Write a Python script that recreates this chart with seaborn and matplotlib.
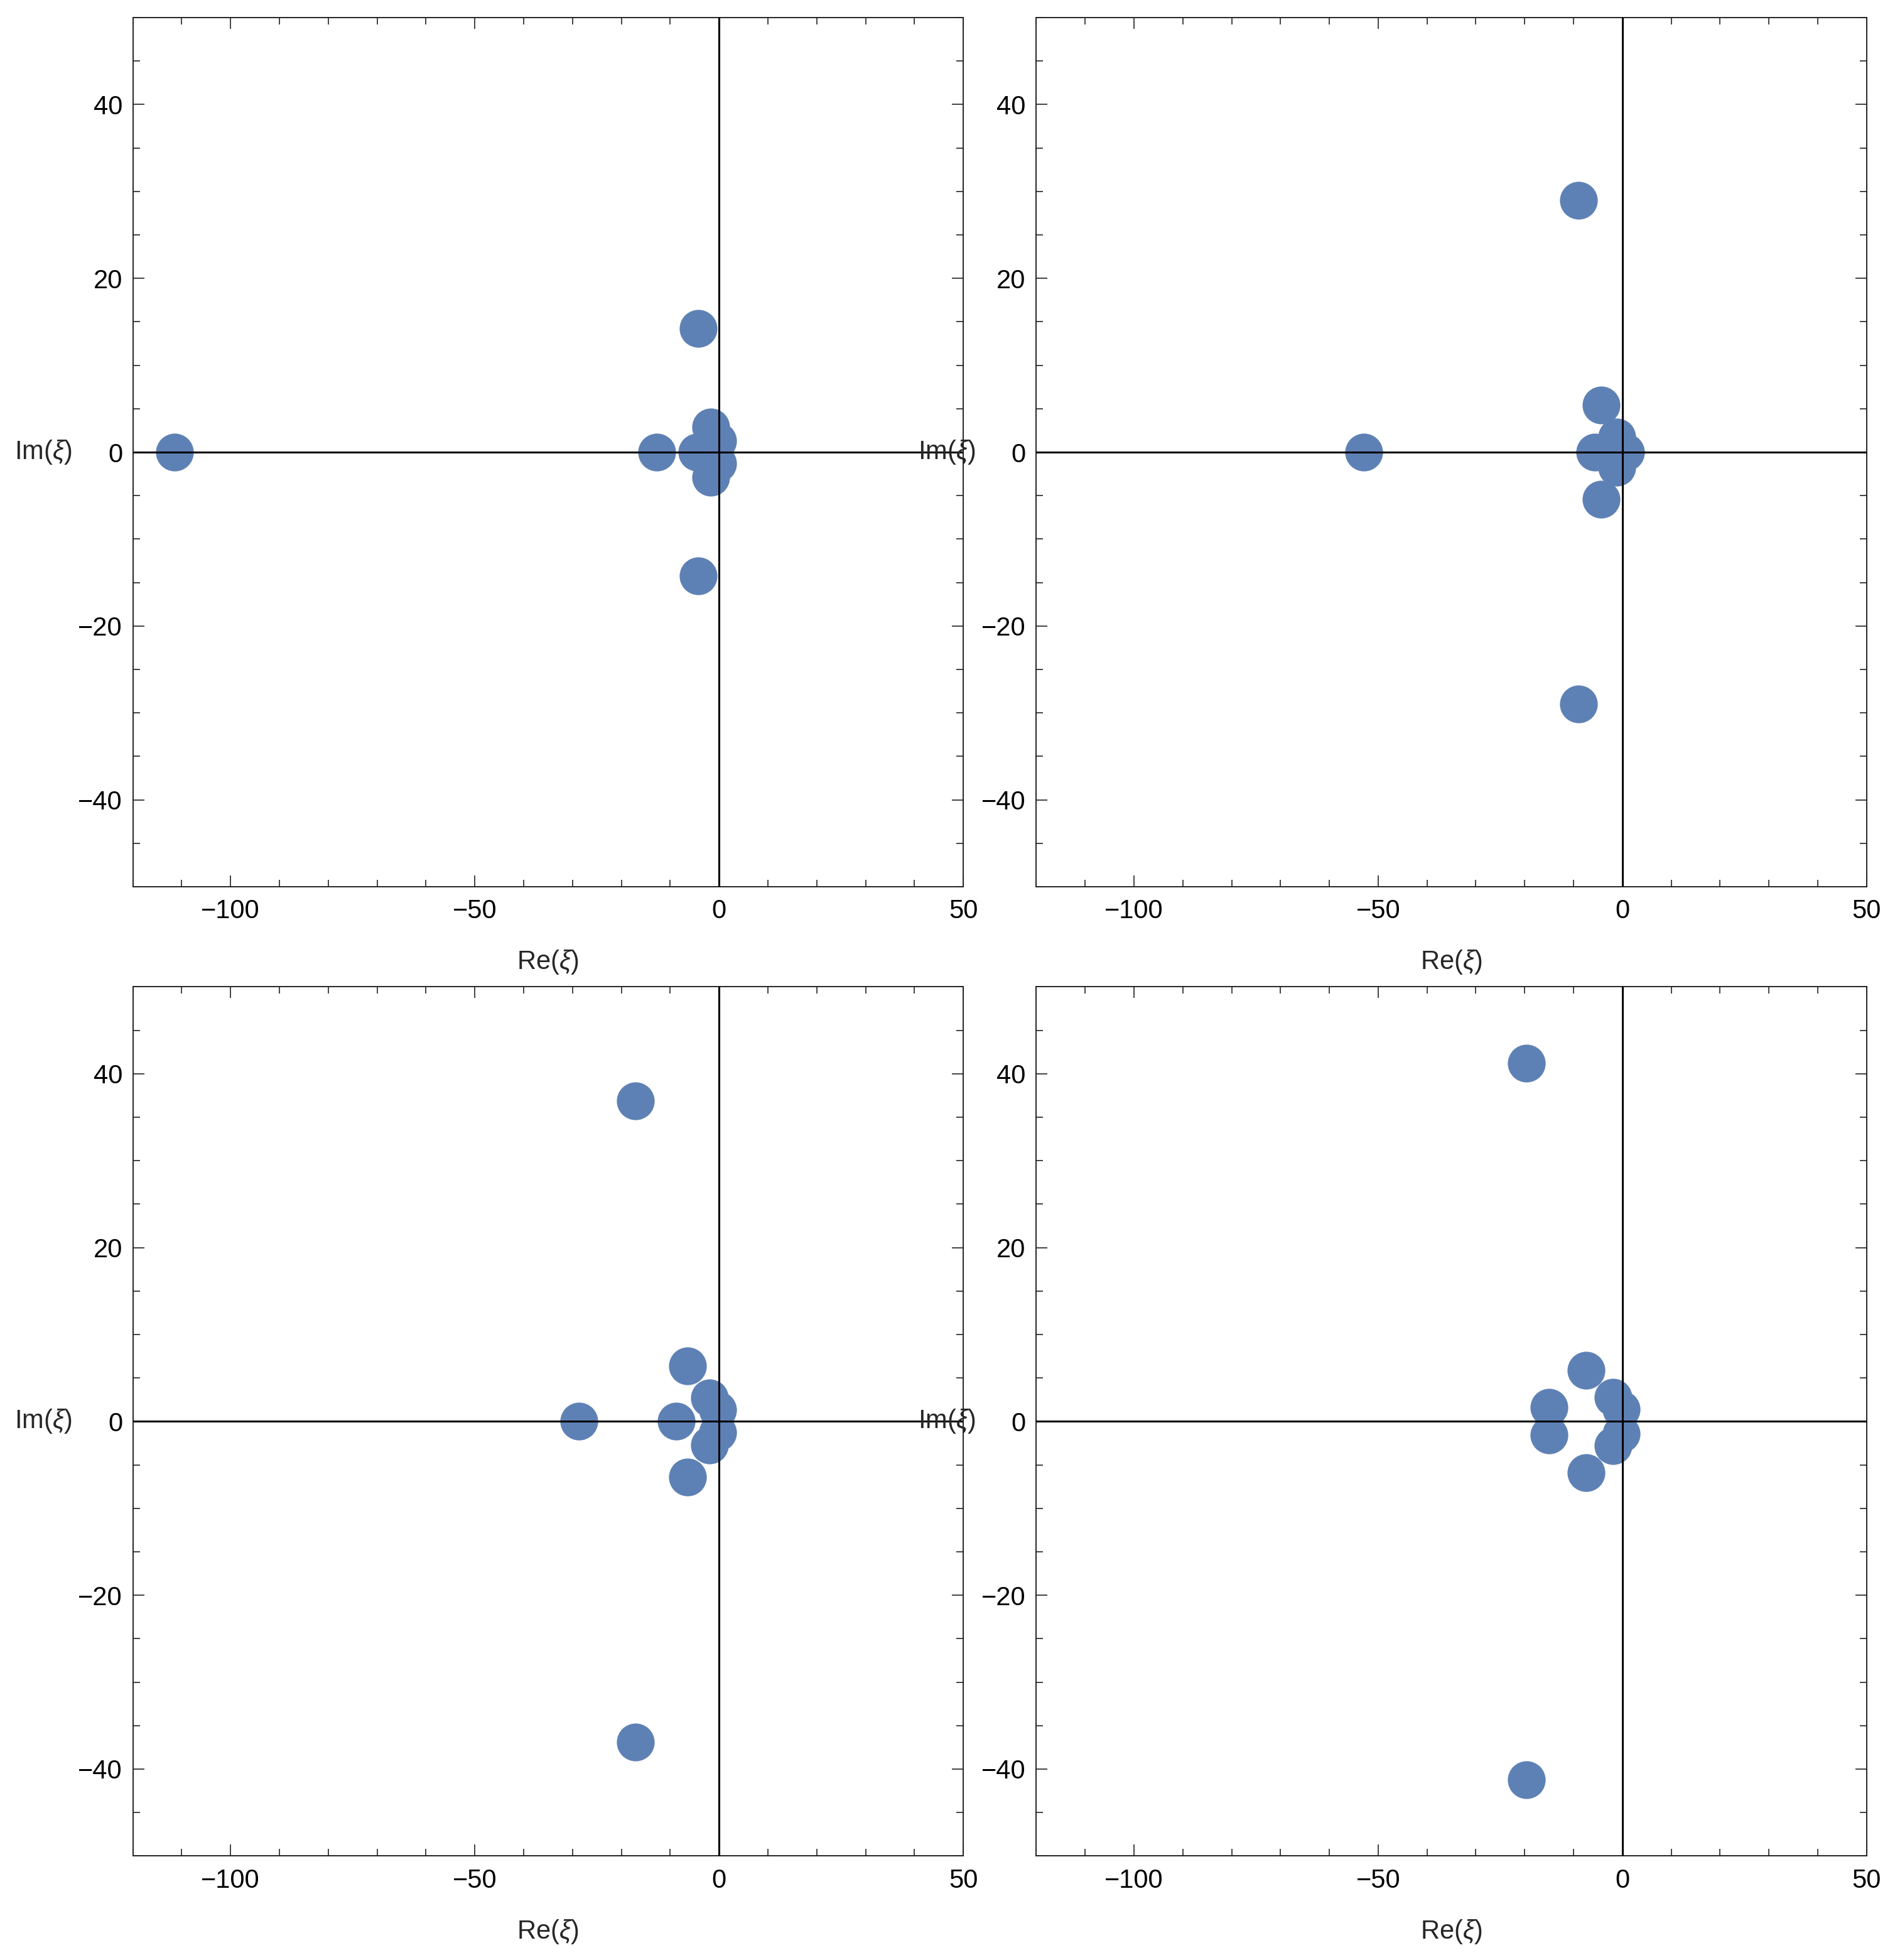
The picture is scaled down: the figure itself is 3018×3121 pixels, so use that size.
import numpy as np
import pandas as pd
import matplotlib
matplotlib.use("Agg")
import matplotlib.pyplot as plt
from matplotlib.ticker import MultipleLocator, FixedLocator
import seaborn as sns

# ---- data ----
p1_re = [-111.5, -12.8, -4.5, -4.2, -4.2, -1.7, -1.7, -0.3, -0.3]
p1_im = [0.0, 0.0, 0.0, 14.2, -14.2, 2.9, -2.9, 1.3, -1.3]

p2_re = [-53.0, -9.0, -9.0, -5.7, -4.3, -4.3, -1.1, -1.1, 0.7]
p2_im = [0.0, 29.0, -29.0, 0.0, 5.4, -5.4, 1.7, -1.7, 0.0]

p3_re = [-28.7, -17.1, -17.1, -8.7, -6.5, -6.5, -1.9, -1.9, -0.3, -0.3]
p3_im = [0.0, 36.9, -36.9, 0.0, 6.4, -6.4, 2.7, -2.7, 1.3, -1.3]

p4_re = [-19.7, -19.7, -15.0, -15.0, -7.4, -7.4, -1.9, -1.9, -0.3, -0.3]
p4_im = [41.2, -41.2, 1.6, -1.6, 5.9, -5.9, 2.8, -2.8, 1.4, -1.4]

x_ticks = [-100, -50, 0, 50]
y_ticks = [-40, -20, 0, 20, 40]
x_label = "Re($\\xi$)"
y_label = "Im($\\xi$)"

panels = [(p1_re, p1_im), (p2_re, p2_im), (p3_re, p3_im), (p4_re, p4_im)]

# ---- style ----
sns.set_theme(style="white")
plt.rcParams["font.family"] = ["Liberation Sans", "DejaVu Sans"]
plt.rcParams["mathtext.fontset"] = "custom"
plt.rcParams["mathtext.rm"] = "Liberation Sans"
plt.rcParams["mathtext.it"] = "Liberation Sans:italic"
plt.rcParams["axes.unicode_minus"] = True

W, H = 3018, 3121
dpi = 200
fig = plt.figure(figsize=(W / dpi, H / dpi), dpi=dpi)
fig.patch.set_facecolor("white")

color = "#5E81B5"
aw = 1322.4 / W
ah = 1384.0 / H
lefts = [211.7 / W, 1650.4 / W]
bottoms = [1 - 1412.0 / H, 1 - 2955.3 / H]
positions = [(lefts[0], bottoms[0]), (lefts[1], bottoms[0]),
             (lefts[0], bottoms[1]), (lefts[1], bottoms[1])]

for (re, im), (l, b) in zip(panels, positions):
    ax = fig.add_axes([l, b, aw, ah])
    df = pd.DataFrame({"re": re, "im": im})
    sns.scatterplot(data=df, x="re", y="im", ax=ax, s=470, color=color,
                    linewidth=0, alpha=1.0, zorder=2, legend=False)
    ax.axhline(0, color="black", lw=1.1, zorder=3)
    ax.axvline(0, color="black", lw=1.1, zorder=3)
    ax.set_xlim(-120, 50)
    ax.set_ylim(-50, 50)
    ax.xaxis.set_major_locator(FixedLocator(x_ticks))
    ax.xaxis.set_minor_locator(MultipleLocator(10))
    ax.yaxis.set_major_locator(FixedLocator(y_ticks))
    ax.yaxis.set_minor_locator(MultipleLocator(5))
    ax.tick_params(which="both", direction="in", top=True, right=True,
                   bottom=True, left=True, colors="#222222",
                   labelcolor="black", labelsize=15)
    ax.tick_params(which="major", length=6.5, width=0.6)
    ax.tick_params(axis="x", which="major", pad=7)
    ax.tick_params(axis="y", which="major", pad=6)
    ax.tick_params(which="minor", length=4.0, width=0.6)
    for sp in ax.spines.values():
        sp.set_color("#222222")
        sp.set_linewidth(0.7)
        sp.set_visible(True)
    ax.set_xlabel(x_label, fontsize=15, va="center", ha="center")
    ax.set_ylabel(y_label, fontsize=15, rotation=0, ha="center", va="center")
    ax.xaxis.set_label_coords(0.5, -0.087)
    ax.yaxis.set_label_coords(-0.108, 0.5)
    ax.set_facecolor("white")
    ax.grid(False)

fig.savefig("out.png", dpi=dpi, facecolor="white")
